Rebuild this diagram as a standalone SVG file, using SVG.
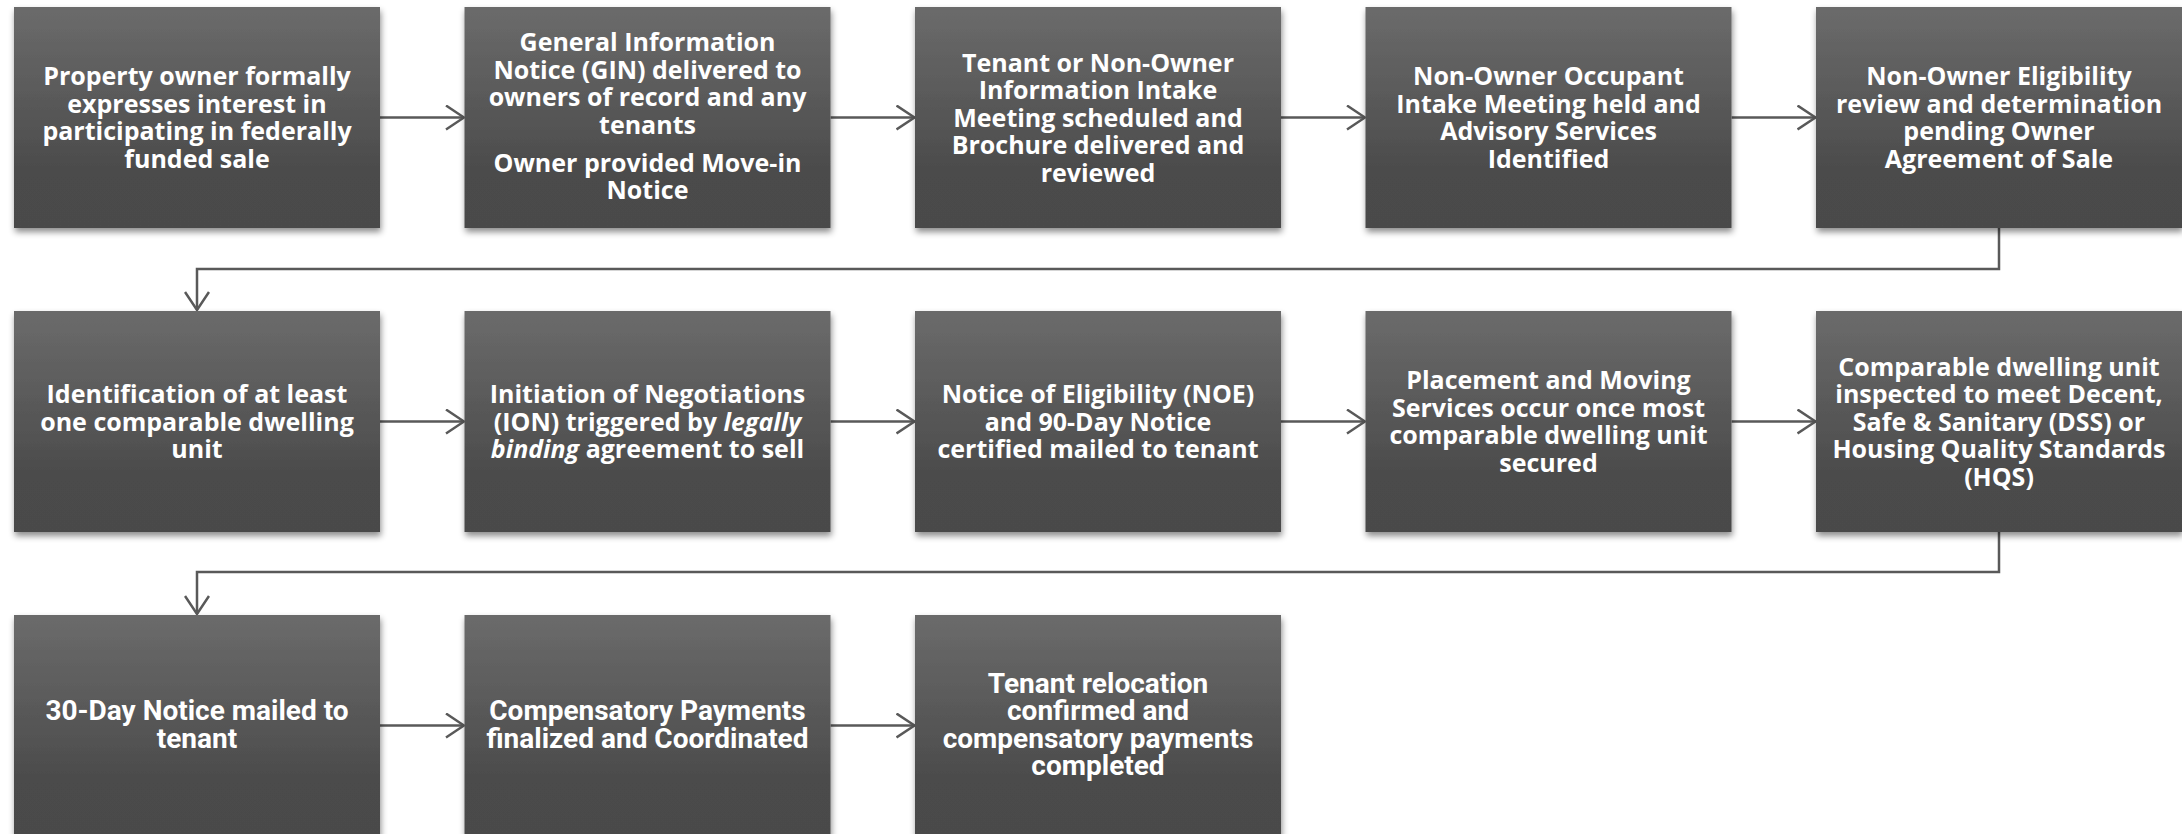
<svg xmlns="http://www.w3.org/2000/svg" width="2182" height="834" viewBox="0 0 2182 834">
<defs>
<linearGradient id="g" x1="0" y1="0" x2="0" y2="1">
<stop offset="0" stop-color="#6b6b6b"/>
<stop offset="0.75" stop-color="#4b4b4b"/>
<stop offset="1" stop-color="#4a4a4a"/>
</linearGradient>
<filter id="sh" x="-5%" y="-5%" width="112%" height="115%">
<feDropShadow dx="1" dy="4" stdDeviation="3" flood-color="#000" flood-opacity="0.45"/>
</filter>
<marker id="ah" viewBox="0 0 20 26" refX="19" refY="13" markerWidth="20" markerHeight="26" markerUnits="userSpaceOnUse" orient="auto">
<path d="M1,1 L19,13 L1,25" fill="none" stroke="#595959" stroke-width="2.5"/>
</marker>
<style>
.box{fill:url(#g);filter:url(#sh)}
.t{fill:#fff;font-family:"Open Sans","DejaVu Sans",sans-serif;font-weight:700;font-size:25px;text-anchor:middle}
.t3{fill:#fff;font-family:Roboto,"DejaVu Sans",sans-serif;font-weight:700;font-size:28px;text-anchor:middle}
.c{fill:none;stroke:#595959;stroke-width:2.5}
</style>
</defs>
<g id="connectors">
<line class="c" x1="380" y1="117.5" x2="464" y2="117.5" marker-end="url(#ah)"/>
<line class="c" x1="830.5" y1="117.5" x2="914.5" y2="117.5" marker-end="url(#ah)"/>
<line class="c" x1="1281" y1="117.5" x2="1365" y2="117.5" marker-end="url(#ah)"/>
<line class="c" x1="1731.5" y1="117.5" x2="1815.5" y2="117.5" marker-end="url(#ah)"/>
<polyline class="c" points="1999,228 1999,269 197,269 197,310" marker-end="url(#ah)"/>
<line class="c" x1="380" y1="421.5" x2="464" y2="421.5" marker-end="url(#ah)"/>
<line class="c" x1="830.5" y1="421.5" x2="914.5" y2="421.5" marker-end="url(#ah)"/>
<line class="c" x1="1281" y1="421.5" x2="1365" y2="421.5" marker-end="url(#ah)"/>
<line class="c" x1="1731.5" y1="421.5" x2="1815.5" y2="421.5" marker-end="url(#ah)"/>
<polyline class="c" points="1999,532 1999,572 197,572 197,614" marker-end="url(#ah)"/>
<line class="c" x1="380" y1="725.5" x2="464" y2="725.5" marker-end="url(#ah)"/>
<line class="c" x1="830.5" y1="725.5" x2="914.5" y2="725.5" marker-end="url(#ah)"/>
</g>
<g id="n1">
<rect class="box" x="14" y="7" width="366" height="221"/>
<text class="t"><tspan x="197" y="85.25">Property owner formally</tspan><tspan x="197" y="112.75">expresses interest in</tspan><tspan x="197" y="140.25">participating in federally</tspan><tspan x="197" y="167.75">funded sale</tspan></text>
</g>
<g id="n2">
<rect class="box" x="464.5" y="7" width="366" height="221"/>
<text class="t"><tspan x="647.5" y="51">General Information</tspan><tspan x="647.5" y="78.5">Notice (GIN) delivered to</tspan><tspan x="647.5" y="106">owners of record and any</tspan><tspan x="647.5" y="133.5">tenants</tspan><tspan x="647.5" y="171.5">Owner provided Move-in</tspan><tspan x="647.5" y="199">Notice</tspan></text>
</g>
<g id="n3">
<rect class="box" x="915" y="7" width="366" height="221"/>
<text class="t"><tspan x="1098" y="71.5">Tenant or Non-Owner</tspan><tspan x="1098" y="99">Information Intake</tspan><tspan x="1098" y="126.5">Meeting scheduled and</tspan><tspan x="1098" y="154">Brochure delivered and</tspan><tspan x="1098" y="181.5">reviewed</tspan></text>
</g>
<g id="n4">
<rect class="box" x="1365.5" y="7" width="366" height="221"/>
<text class="t"><tspan x="1548.5" y="85.25">Non-Owner Occupant</tspan><tspan x="1548.5" y="112.75">Intake Meeting held and</tspan><tspan x="1548.5" y="140.25">Advisory Services</tspan><tspan x="1548.5" y="167.75">Identified</tspan></text>
</g>
<g id="n5">
<rect class="box" x="1816" y="7" width="366" height="221"/>
<text class="t"><tspan x="1999" y="85.25">Non-Owner Eligibility</tspan><tspan x="1999" y="112.75">review and determination</tspan><tspan x="1999" y="140.25">pending Owner</tspan><tspan x="1999" y="167.75">Agreement of Sale</tspan></text>
</g>
<g id="n6">
<rect class="box" x="14" y="311" width="366" height="221"/>
<text class="t"><tspan x="197" y="403">Identification of at least</tspan><tspan x="197" y="430.5">one comparable dwelling</tspan><tspan x="197" y="458">unit</tspan></text>
</g>
<g id="n7">
<rect class="box" x="464.5" y="311" width="366" height="221"/>
<text class="t"><tspan x="647.5" y="403">Initiation of Negotiations</tspan><tspan x="647.5" y="430.5">(ION) triggered by <tspan font-style="italic">legally</tspan></tspan><tspan x="647.5" y="458"><tspan font-style="italic">binding</tspan> agreement to sell</tspan></text>
</g>
<g id="n8">
<rect class="box" x="915" y="311" width="366" height="221"/>
<text class="t"><tspan x="1098" y="403">Notice of Eligibility (NOE)</tspan><tspan x="1098" y="430.5">and 90-Day Notice</tspan><tspan x="1098" y="458">certified mailed to tenant</tspan></text>
</g>
<g id="n9">
<rect class="box" x="1365.5" y="311" width="366" height="221"/>
<text class="t"><tspan x="1548.5" y="389.25">Placement and Moving</tspan><tspan x="1548.5" y="416.75">Services occur once most</tspan><tspan x="1548.5" y="444.25">comparable dwelling unit</tspan><tspan x="1548.5" y="471.75">secured</tspan></text>
</g>
<g id="n10">
<rect class="box" x="1816" y="311" width="366" height="221"/>
<text class="t"><tspan x="1999" y="375.5">Comparable dwelling unit</tspan><tspan x="1999" y="403">inspected to meet Decent,</tspan><tspan x="1999" y="430.5">Safe &amp; Sanitary (DSS) or</tspan><tspan x="1999" y="458">Housing Quality Standards</tspan><tspan x="1999" y="485.5">(HQS)</tspan></text>
</g>
<g id="n11">
<rect class="box" x="14" y="615" width="366" height="221"/>
<text class="t3"><tspan x="197" y="720">30-Day Notice mailed to</tspan><tspan x="197" y="748">tenant</tspan></text>
</g>
<g id="n12">
<rect class="box" x="464.5" y="615" width="366" height="221"/>
<text class="t3"><tspan x="647.5" y="720">Compensatory Payments</tspan><tspan x="647.5" y="748">finalized and Coordinated</tspan></text>
</g>
<g id="n13">
<rect class="box" x="915" y="615" width="366" height="221"/>
<text class="t3"><tspan x="1098" y="692.5">Tenant relocation</tspan><tspan x="1098" y="720">confirmed and</tspan><tspan x="1098" y="747.5">compensatory payments</tspan><tspan x="1098" y="775">completed</tspan></text>
</g>
</svg>
